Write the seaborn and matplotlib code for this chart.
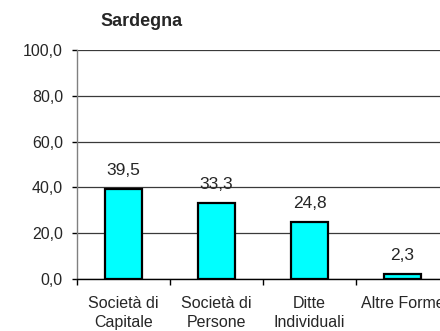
import matplotlib
matplotlib.use("Agg")
import matplotlib.pyplot as plt
import seaborn as sns
import pandas as pd
from matplotlib.ticker import FixedLocator, FuncFormatter

categories = ["Società di\nCapitale", "Società di\nPersone", "Ditte\nIndividuali", "Altre Forme"]
values = [39.5, 33.3, 24.8, 2.3]
yticks = [0, 20, 40, 60, 80, 100]

sns.set_style("white")
plt.rcParams['font.family'] = ['Liberation Sans', 'DejaVu Sans']

fig = plt.figure(figsize=(4.4, 3.31), dpi=100)
ax = fig.add_axes([77/440, 1 - 279/331, 372/440, 229/331])

df = pd.DataFrame({"cat": categories, "val": values})
sns.barplot(data=df, x="cat", y="val", ax=ax, color="#00FFFF", width=0.4,
            edgecolor="black", linewidth=1.6, saturation=1, zorder=3)

ax.set_ylim(0, 100)
ax.set_xlim(-0.5, 3.5)
ax.set_yticks(yticks)
ax.yaxis.set_major_formatter(FuncFormatter(lambda v, p: f"{v:.1f}".replace(".", ",")))
ax.grid(axis="y", color="#3a3a3a", linewidth=0.9, zorder=0)
ax.set_axisbelow(True)
for s in ["top", "right"]:
    ax.spines[s].set_visible(False)
ax.spines["left"].set_color("#808080")
ax.spines["bottom"].set_color("black")
ax.spines["left"].set_linewidth(1.0)
ax.spines["bottom"].set_linewidth(1.0)
ax.tick_params(axis="y", length=3.6, width=1, color="black", labelsize=11.5, pad=6.5, left=True)
ax.tick_params(axis="x", which="major", length=0, labelsize=11.5, pad=12)
ax.xaxis.set_minor_locator(FixedLocator([-0.5, 0.5, 1.5, 2.5, 3.5]))
ax.tick_params(axis="x", which="minor", length=4, width=1, color="black", bottom=True)
for t in ax.get_xticklabels():
    t.set_linespacing(1.35)
ax.set_xlabel("")
ax.set_ylabel("")

for i, v in enumerate(values):
    ax.annotate(f"{v:.1f}".replace(".", ","), xy=(i, v), xytext=(0, 10),
                textcoords="offset points", ha="center", va="baseline", fontsize=12.5)

fig.text(142/440, 1 - 21/331, "Sardegna", ha="center", va="center", fontsize=13, fontweight="bold")

fig.savefig("out.png", dpi=100)
